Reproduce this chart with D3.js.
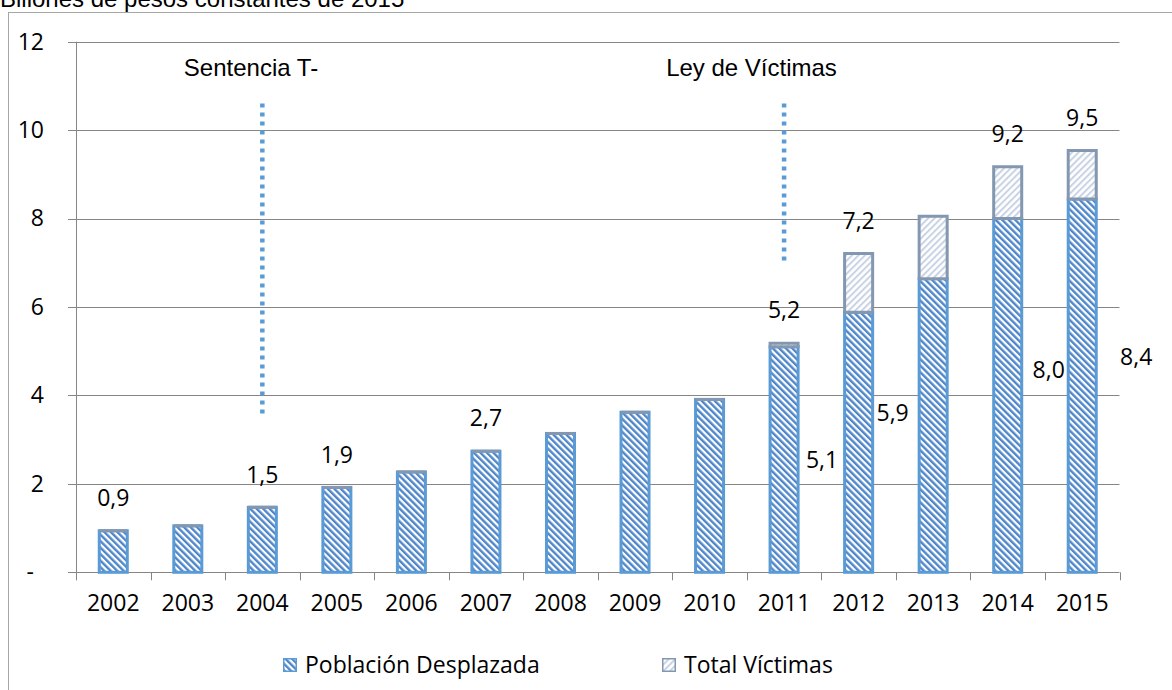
<!DOCTYPE html>
<html><head><meta charset="utf-8">
<script src="https://cdn.jsdelivr.net/npm/d3@7"></script>
<style>body{margin:0;background:#fff}svg{display:block}</style>
</head><body>
<svg id="c" width="1172" height="690"></svg>
<script>
const categories = ["2002","2003","2004","2005","2006","2007","2008","2009","2010","2011","2012","2013","2014","2015"];
const poblacionDesplazada = [0.94,1.05,1.47,1.92,2.27,2.74,3.14,3.62,3.91,5.10,5.88,6.64,8.00,8.44];
const totalVictimas       = [0.94,1.05,1.47,1.92,2.27,2.74,3.14,3.62,3.91,5.18,7.21,8.05,9.17,9.54];
const yTicks = [0,2,4,6,8,10,12];
const yTickLabels = ["-","2","4","6","8","10","12"];
const totalLabelYears = ["2002","2004","2005","2007","2011","2012","2014","2015"];
const desplazadaLabelYears = ["2011","2012","2014","2015"];
const seriesNames = ["Población Desplazada","Total Víctimas"];
const titleText = "Billones de pesos constantes de 2015";
const annotationTexts = ["Sentencia T-","Ley de Víctimas"];
const annotationYears = ["2004","2011"];

const svg = d3.select("#c");
const FONT = "'Open Sans', sans-serif";
const fmt = v => d3.format(".1f")(v).replace(".", ",");

// patterns
const defs = svg.append("defs");
const p1 = defs.append("pattern").attr("id","pDesp").attr("patternUnits","userSpaceOnUse")
  .attr("width",4.6).attr("height",4.6).attr("patternTransform","rotate(-45)");
p1.append("rect").attr("width",4.6).attr("height",4.6).attr("fill","#ffffff");
p1.append("rect").attr("width",2.4).attr("height",4.6).attr("fill","#4f86c9");
const p2 = defs.append("pattern").attr("id","pVic").attr("patternUnits","userSpaceOnUse")
  .attr("width",4.6).attr("height",4.6).attr("patternTransform","rotate(45)");
p2.append("rect").attr("width",4.6).attr("height",4.6).attr("fill","#ffffff");
p2.append("rect").attr("width",2.0).attr("height",4.6).attr("fill","#c9d3e3");

// outer frame
svg.append("rect").attr("x",8.5).attr("y",12.5).attr("width",1200).attr("height",700)
  .attr("fill","none").attr("stroke","#a6a6a6").attr("stroke-width",1);

// title
svg.append("text").attr("x",0).attr("y",7).attr("font-family","'Liberation Sans', Arial, sans-serif")
  .attr("font-size",24).attr("fill","#000").text(titleText);

const x = d3.scaleBand().domain(categories).range([76,1119.5]).padding(0);
const y = d3.scaleLinear().domain([0,12]).range([572.3,41.7]);
const step = x.step();
const bw = step*0.376;
const cx = c => x(c) + step/2;

// gridlines
svg.append("g").selectAll("line").data(yTicks).join("line")
  .attr("x1",68).attr("x2",1119.5).attr("y1",d=>Math.round(y(d))+0.5).attr("y2",d=>Math.round(y(d))+0.5)
  .attr("stroke","#868686").attr("stroke-width",1);
// y axis line
svg.append("line").attr("x1",76.5).attr("x2",76.5).attr("y1",y(12)).attr("y2",y(0))
  .attr("stroke","#868686");
// y labels
const yAxis = d3.axisLeft(y).tickValues(yTicks).tickSize(0).tickPadding(0)
  .tickFormat((d,i)=>yTickLabels[i]);
const gy = svg.append("g").attr("transform","translate(44,0)").call(yAxis);
gy.select(".domain").remove();
gy.selectAll("text").attr("font-family",FONT).attr("font-size",23).attr("fill","#000")
  .attr("dx",(d)=>d===0?-10:0);

// x ticks at boundaries
const bounds = categories.map(c=>x(c)).concat([x.range()[1]]);
svg.append("g").selectAll("line").data(bounds).join("line")
  .attr("x1",d=>Math.round(d)+0.5).attr("x2",d=>Math.round(d)+0.5).attr("y1",y(0)).attr("y2",y(0)+8)
  .attr("stroke","#868686");
const xAxis = d3.axisBottom(x).tickSize(0).tickPadding(0);
const gx = svg.append("g").attr("transform","translate(0,595)").call(xAxis);
gx.select(".domain").remove();
gx.selectAll("text").attr("font-family",FONT).attr("font-size",23).attr("fill","#000");

// bars
const rows = categories.map((c,i)=>({c, d:poblacionDesplazada[i], t:totalVictimas[i]}));
svg.append("g").selectAll("rect").data(rows).join("rect")
  .attr("x",r=>cx(r.c)-bw/2).attr("width",bw)
  .attr("y",r=>y(r.d)).attr("height",r=>y(0)-y(r.d))
  .attr("fill","url(#pDesp)").attr("stroke","#5b9bd5").attr("stroke-width",3);
svg.append("g").selectAll("path").data(rows).join("path")
  .attr("d",r=>{const x0=cx(r.c)-bw/2,x1=x0+bw,y0=y(r.d),y1=y(r.t);
     return `M${x0},${y0}H${x1}V${y1}H${x0}Z`;})
  .attr("fill","url(#pVic)").attr("stroke","#8497b0").attr("stroke-width",3).attr("stroke-linejoin","miter");

// annotations: dotted lines
const annLayout = [{from:10.6,to:3.55},{from:10.6,to:7.0}];
svg.append("g").selectAll("line").data(annotationYears).join("line")
  .attr("x1",d=>cx(d)).attr("x2",d=>cx(d))
  .attr("y1",(d,i)=>y(annLayout[i].from)).attr("y2",(d,i)=>y(annLayout[i].to))
  .attr("stroke","#5b9bd5").attr("stroke-width",4.5).attr("stroke-dasharray","4 5");
const annX = [251,751.5];
svg.append("g").selectAll("text").data(annotationTexts).join("text")
  .attr("x",(d,i)=>annX[i]).attr("y",76).attr("text-anchor","middle")
  .attr("font-family","'Liberation Sans', Arial, sans-serif").attr("font-size",24).attr("fill","#000")
  .text(d=>d);

// data labels (totals above bars)
svg.append("g").selectAll("text").data(totalLabelYears).join("text")
  .attr("x",c=>cx(c)).attr("y",c=>y(totalVictimas[categories.indexOf(c)])-33+8.2)
  .attr("text-anchor","middle").attr("font-family",FONT).attr("font-size",23).attr("fill","#000")
  .text(c=>fmt(totalVictimas[categories.indexOf(c)]));
// data labels (desplazada beside bars)
const sideLayout = [{dx:38,yv:2.54},{dx:34,yv:3.6},{dx:41,yv:4.58},{dx:54,yv:4.87}];
svg.append("g").selectAll("text").data(desplazadaLabelYears).join("text")
  .attr("x",(c,i)=>cx(c)+sideLayout[i].dx).attr("y",(c,i)=>y(sideLayout[i].yv)+8.2)
  .attr("text-anchor","middle").attr("font-family",FONT).attr("font-size",23).attr("fill","#000")
  .text(c=>fmt(poblacionDesplazada[categories.indexOf(c)]));

// legend
const legX = [283,662];
const lg = svg.append("g").selectAll("g").data(seriesNames).join("g")
  .attr("transform",(d,i)=>`translate(${legX[i]},658)`);
lg.append("rect").attr("x",0.75).attr("y",0.75).attr("width",12.5).attr("height",12.5)
  .attr("fill",(d,i)=>i===0?"url(#pDesp)":"url(#pVic)")
  .attr("stroke",(d,i)=>i===0?"#5b9bd5":"#8497b0").attr("stroke-width",1.5);
lg.append("text").attr("x",22).attr("y",15).attr("font-family",FONT).attr("font-size",23)
  .attr("fill","#000").text(d=>d);
</script>
</body></html>
